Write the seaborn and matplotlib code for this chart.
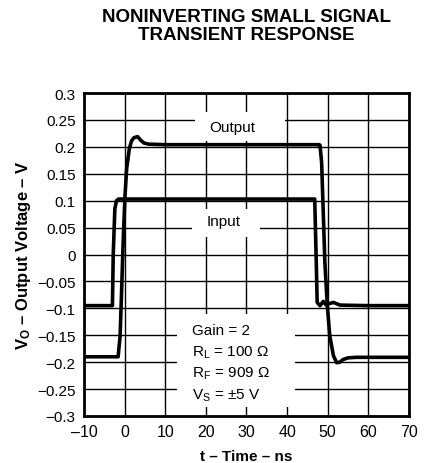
import numpy as np
import pandas as pd
import seaborn as sns
import matplotlib.pyplot as plt
from matplotlib.patches import Rectangle

# traces (time in ns, volts)
t_in = [-10, -3.0, -2.8, -2.4, -2.0, -1.5, 0, 10, 30, 46.8, 47.0, 47.2, 47.4, 48.1, 48.9, 49.5, 50.5, 51.4, 53, 60, 70]
v_in = [-0.095, -0.095, 0.0, 0.085, 0.100, 0.103, 0.103, 0.103, 0.103, 0.103, 0.04, -0.02, -0.089, -0.095, -0.087, -0.093, -0.091, -0.089, -0.094, -0.095, -0.095]

t_out = [-10, -1.6, -1.1, -0.7, -0.3, 0.1, 0.5, 1.15, 1.7, 2.3, 3.2, 4.0, 4.8, 6, 10, 20, 47.9, 48.1, 48.5, 48.9, 49.3, 49.9, 50.5, 51.4, 52.2, 53.0, 53.8, 55, 57, 70]
v_out = [-0.19, -0.19, -0.151, -0.058, 0.035, 0.109, 0.159, 0.196, 0.211, 0.217, 0.219, 0.212, 0.207, 0.205, 0.204, 0.204, 0.204, 0.203, 0.171, 0.078, -0.015, -0.095, -0.151, -0.188, -0.201, -0.200, -0.195, -0.192, -0.191, -0.191]

x_ticks = [-10, 0, 10, 20, 30, 40, 50, 60, 70]
y_ticks = [0.3, 0.25, 0.2, 0.15, 0.1, 0.05, 0, -0.05, -0.1, -0.15, -0.2, -0.25, -0.3]
y_labels = ["0.3", "0.25", "0.2", "0.15", "0.1", "0.05", "0", "\u22120.05", "\u22120.1",
            "\u22120.15", "\u22120.2", "\u22120.25", "\u22120.3"]
notes = ["Gain = 2", r"R$_\mathrm{L}$ = 100 Ω", r"R$_\mathrm{F}$ = 909 Ω", r"V$_\mathrm{S}$ = ±5 V"]

sns.set_style("white")
plt.rcParams["font.family"] = ["Liberation Sans", "DejaVu Sans"]
plt.rcParams["mathtext.fontset"] = "custom"
plt.rcParams["mathtext.rm"] = "Liberation Sans"
plt.rcParams["mathtext.bf"] = "Liberation Sans:bold"
for k in ["text.color", "axes.labelcolor", "xtick.color", "ytick.color"]:
    plt.rcParams[k] = "black"

df_in = pd.DataFrame({"t": t_in, "v": v_in})
df_out = pd.DataFrame({"t": t_out, "v": v_out})

fig = plt.figure(figsize=(4.32, 4.64), dpi=100)
ax = fig.add_axes([0.1944, 0.1013, 0.7523, 0.6961])

sns.lineplot(data=df_in, x="t", y="v", sort=False, estimator=None, color="black", lw=2.6, ax=ax, zorder=3)
sns.lineplot(data=df_out, x="t", y="v", sort=False, estimator=None, color="black", lw=2.6, ax=ax, zorder=3)

ax.set_xlim(-10, 70)
ax.set_ylim(-0.3, 0.3)
ax.set_xticks(x_ticks)
ax.set_yticks(y_ticks)
ax.set_yticklabels(y_labels)
ax.set_xticklabels([str(x).replace("-", "\u2013") for x in x_ticks])
ax.set_axisbelow(True)
ax.grid(True, color="black", lw=1.0)
for s in ax.spines.values():
    s.set_linewidth(2.0)
    s.set_color("black")
ax.tick_params(axis="both", direction="out", length=3, width=1, color="black", pad=3)
ax.tick_params(axis="x", labelsize=11.5)
ax.tick_params(axis="y", labelsize=11)

# white patches that break the grid behind the labels
for (x0, x1, y0, y1) in [(17.3, 39.5, 0.211, 0.265), (16.5, 33.3, 0.0325, 0.0845), (12.8, 41.9, -0.2838, -0.1105)]:
    ax.add_patch(Rectangle((x0, y0), x1 - x0, y1 - y0, facecolor="white", edgecolor="none", zorder=1))

ax.text(26.4, 0.2374, "Output", fontsize=11, ha="center", va="center", zorder=4)
ax.text(24.3, 0.0628, "Input", fontsize=11, ha="center", va="center", zorder=4)
for i, s in enumerate(notes):
    ax.text(16.7, -0.148 - i * 0.0395, s, fontsize=11, ha="left", va="baseline", zorder=4)

ax.set_xlabel("t \u2013 Time \u2013 ns", fontsize=11, fontweight="bold", labelpad=7)
ax.set_ylabel("$\\mathbf{V_O}$ \u2013 Output Voltage \u2013 V", fontsize=12, fontweight="bold", labelpad=3)

fig.text(0.571, 0.963, "NONINVERTING SMALL SIGNAL", fontsize=13.5, fontweight="bold", ha="center", va="center")
fig.text(0.571, 0.924, "TRANSIENT RESPONSE", fontsize=13.5, fontweight="bold", ha="center", va="center")

fig.savefig("out.png", dpi=100)
